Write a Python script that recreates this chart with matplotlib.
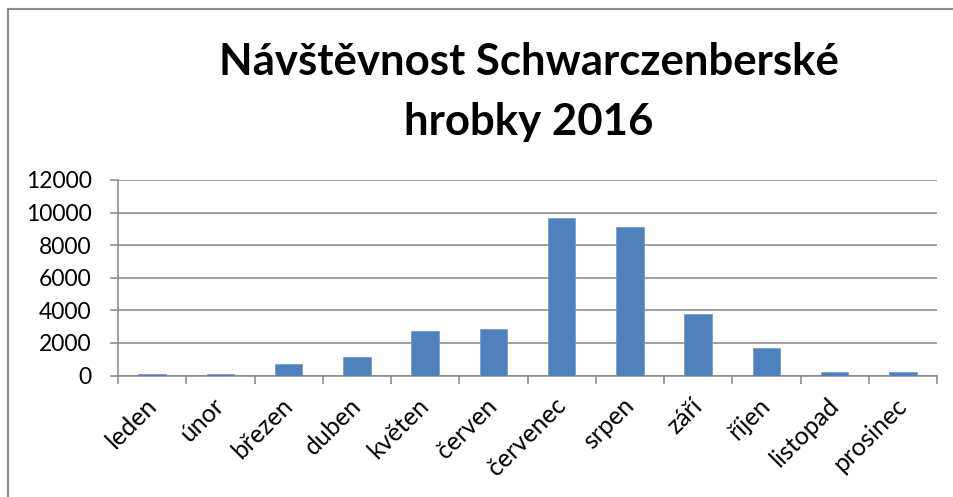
import matplotlib
matplotlib.use("Agg")
import matplotlib.pyplot as plt
from matplotlib.lines import Line2D

# Data
mesice = ['leden', 'únor', 'březen', 'duben', 'květen', 'červen',
          'červenec', 'srpen', 'září', 'říjen', 'listopad', 'prosinec']
navstevnost = [100, 75, 710, 1120, 2710, 2830, 9660, 9130, 3750, 1710, 220, 190]
y_ticks = [0, 2000, 4000, 6000, 8000, 10000, 12000]
titulek = 'Návštěvnost Schwarczenberské\nhrobky 2016'

plt.rcParams['font.family'] = ['Lato', 'DejaVu Sans']

fig = plt.figure(figsize=(9.54, 4.97), dpi=100)
ax = fig.add_axes([118 / 954, 1 - 375.5 / 497, 819 / 954, 195.5 / 497])

seda = '#868686'
x = list(range(len(mesice)))
ax.bar(x, navstevnost, width=0.4, color='#4F81BD', edgecolor='#6d96c8',
       linewidth=0.5, zorder=3)

ax.set_xlim(-0.5, len(mesice) - 0.5)
ax.set_ylim(0, 12000)
ax.set_yticks(y_ticks)
ax.set_yticklabels([str(v) for v in y_ticks])
ax.yaxis.grid(True, color=seda, linewidth=1.1, zorder=0)

ax.set_xticks(x)
ax.set_xticklabels(mesice, rotation=45, ha='right', va='center',
                   rotation_mode='anchor')
ax.set_xticks([i - 0.5 for i in range(len(mesice) + 1)], minor=True)
ax.tick_params(axis='x', which='major', length=0, pad=19, labelsize=18)
ax.tick_params(axis='x', which='minor', length=6, width=1.1, color=seda,
               direction='out')
ax.tick_params(axis='y', length=6, width=1.1, color=seda, pad=13,
               labelsize=16.5)

for side in ['top', 'right']:
    ax.spines[side].set_visible(False)
for side in ['left', 'bottom']:
    ax.spines[side].set_color(seda)
    ax.spines[side].set_linewidth(1.1)

fig.text(529 / 954, 1 - 92 / 497, titulek, ha='center', va='center',
         fontsize=31.5, fontweight='bold', linespacing=1.58)

# gray chart border (only top and left visible in the reference)
fig.add_artist(Line2D([8 / 954, 8 / 954], [0, 1 - 8.5 / 497],
                      transform=fig.transFigure, color='#8c8c8c', linewidth=1.5))
fig.add_artist(Line2D([8 / 954, 1], [1 - 8.5 / 497, 1 - 8.5 / 497],
                      transform=fig.transFigure, color='#8c8c8c', linewidth=1.5))

fig.savefig('out.png', dpi=100)
